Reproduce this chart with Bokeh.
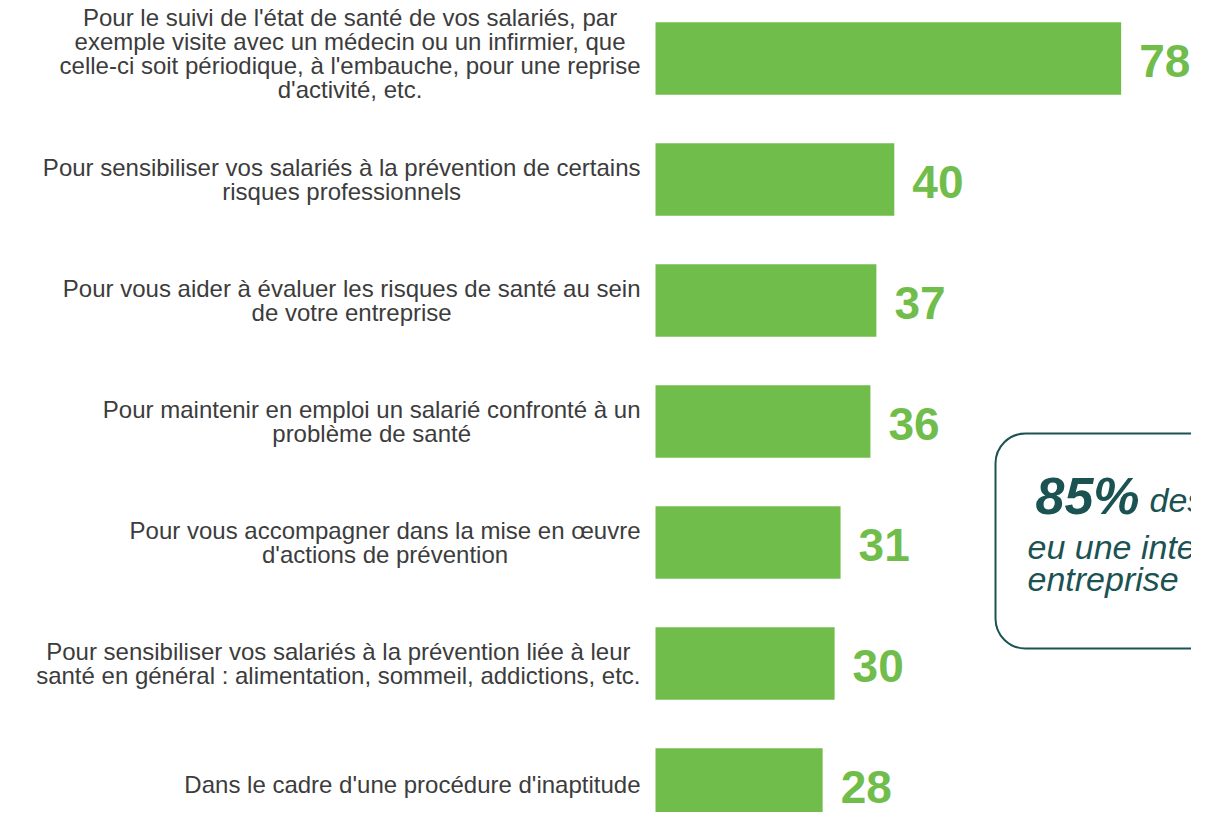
from bokeh.plotting import figure
from bokeh.models import ColumnDataSource, Range1d, BoxAnnotation
from bokeh.core.properties import value
from bokeh.embed import file_html
from bokeh.resources import INLINE

# ---- data ----
labels = [
    "Pour le suivi de l'état de santé de vos salariés, par\nexemple visite avec un médecin ou un infirmier, que\ncelle-ci soit périodique, à l'embauche, pour une reprise\nd'activité, etc.",
    "Pour sensibiliser vos salariés à la prévention de certains\nrisques professionnels",
    "Pour vous aider à évaluer les risques de santé au sein\nde votre entreprise",
    "Pour maintenir en emploi un salarié confronté à un\nproblème de santé",
    "Pour vous accompagner dans la mise en œuvre\nd'actions de prévention",
    "Pour sensibiliser vos salariés à la prévention liée à leur\nsanté en général : alimentation, sommeil, addictions, etc.",
    "Dans le cadre d'une procédure d'inaptitude",
]
values = [78, 40, 37, 36, 31, 30, 28]
value_texts = [str(v) for v in values]
callout_big = "85%"
callout_lines = ["des employeurs ont", "eu une intervention dans leur", "entreprise"]

# ---- layout helpers (picture pixel -> data) ----
W, H = 1191, 812
XS = 5.97          # px per percentage unit
X0 = 655           # bar base in px
YS = 121.0         # px per row
Y0 = 58            # first row centre in px

def px_x(rx):
    return (rx - X0) / XS

def px_y(ry):
    return (ry - Y0) / YS

GREEN = "#71bd4b"
TEAL = "#1b5252"

rows = list(range(len(values)))
label_dy = [-5, 0, 0, 0, 0, 0, 0]   # vertical nudge of label blocks (px)
src = ColumnDataSource(dict(row=rows, value=values, label=labels, vtxt=value_texts,
                            ldy=label_dy))

p = figure(width=W, height=H, output_backend="svg", toolbar_location=None,
           x_range=Range1d(-X0 / XS, (W - X0) / XS),
           y_range=Range1d((H - Y0) / YS, -Y0 / YS),
           x_axis_location=None, y_axis_location=None, min_border=0)
p.grid.visible = False
p.outline_line_color = None
p.background_fill_color = "white"

p.hbar(y="row", left=0, right="value", height=0.6, source=src,
       fill_color=GREEN, line_color=None)

p.text(x=0, y="row", text="label", source=src, x_offset=-15, y_offset="ldy",
       anchor=value("center_right"), text_align="center", text_baseline="middle",
       text_font=value("Liberation Sans"), text_font_size="24px",
       text_line_height=0.9, text_color="#3c3c3c")

p.text(x="value", y="row", text="vtxt", source=src, x_offset=18, y_offset=2,
       text_align="left", text_baseline="middle",
       text_font=value("Liberation Sans"),
       text_font_style="bold", text_font_size="46px", text_color=GREEN)

# callout box
box = BoxAnnotation(left=px_x(995), right=px_x(1300), top=px_y(433), bottom=px_y(648),
                    fill_color=None, fill_alpha=0, line_color=TEAL, line_alpha=1.0,
                    line_width=2, border_radius=30)
p.add_layout(box)

p.text(x=[px_x(1035)], y=[px_y(495)], text=[callout_big],
       text_align="left", text_baseline="middle",
       text_font=value("Liberation Sans"), text_font_style="bold italic",
       text_font_size="52px", text_color=TEAL)
p.text(x=[px_x(1149), px_x(1027), px_x(1027)],
       y=[px_y(499), px_y(546), px_y(578)], text=callout_lines,
       text_align="left", text_baseline="middle",
       text_font=value("Liberation Sans"), text_font_style="italic",
       text_font_size="34px", text_color=TEAL)

open("out.html", "w").write(file_html(p, INLINE))
